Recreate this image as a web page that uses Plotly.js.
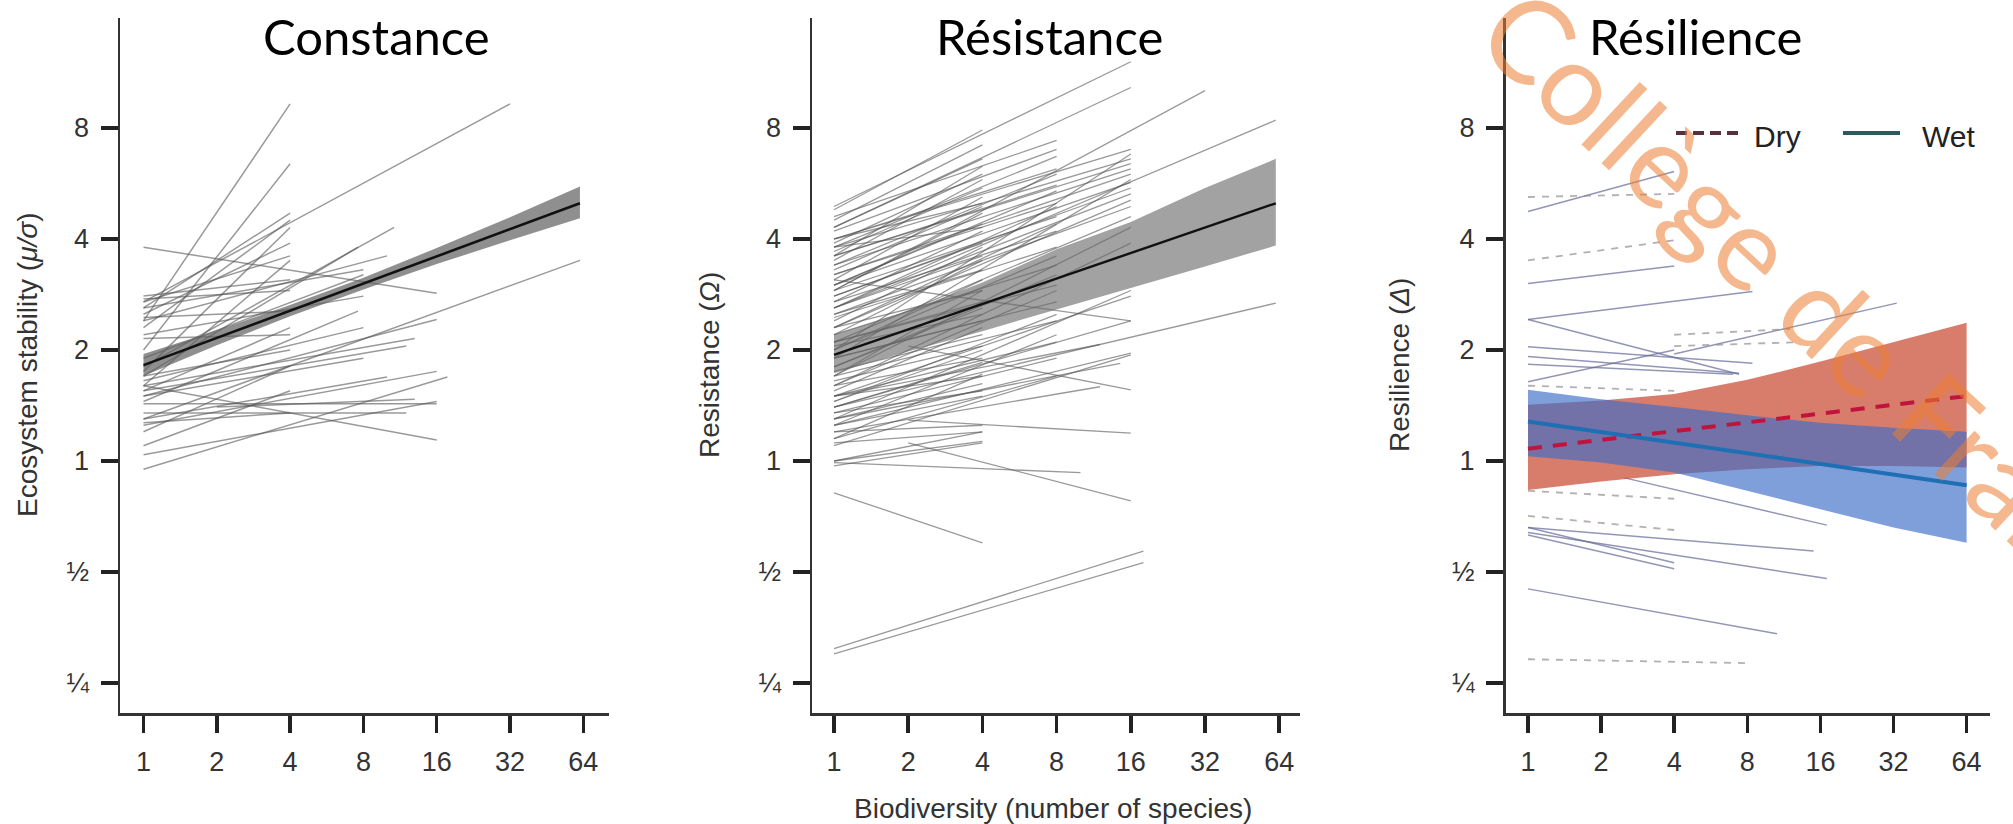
<!DOCTYPE html>
<html><head><meta charset="utf-8">
<script src="https://cdn.plot.ly/plotly-3.0.1.min.js"></script>
<style>html,body{margin:0;padding:0;background:#fff}#chart{width:2013px;height:824px}</style>
</head><body><div id="chart"></div>
<script>
// ---------- Panel 1 : Constance (ecosystem stability) ----------
const p1X0 = [1,1,1,1,1,1,1,1,1,1,1,1,1,1,1,1,1,1,1,2,1,1,1,1,1,1,1,1,1,1,1,1,1,1,1,1,1,1,1,1];
const p1X1 = [4,4,4,4,4,4,4,4,32,16,10.7,7.6,62,16,7.6,4,10,16,12,13,16,16,17.7,4,8,8,4,4,8,4,4,8,12,16,4,8,4,10,4,13];
const p1Y0 = [2.4,2.0,2.6,2.3,1.75,2.8,2.75,1.6,2.7,3.8,1.8,1.7,1.3,1.5,1.45,1.2,1.3,1.43,1.35,1.4,1.6,1.04,0.95,1.1,2.6,2.2,2.7,2.5,1.9,1.55,2.15,1.65,1.55,1.25,1.7,1.5,1.27,2.4,2.45,1.6];
const p1Y1 = [9.3,6.4,4.7,4.5,4.3,3.1,2.9,3.5,9.3,2.85,4.3,3.8,3.5,2.42,2.55,1.81,1.69,1.43,1.35,1.47,1.14,1.45,1.69,1.55,3.3,2.8,3.6,3.9,3.2,2.3,2.2,2.3,2.05,1.75,2.0,1.9,1.35,3.6,2.55,2.15];
const p1RegX = [1, 62];
const p1RegY = [1.82, 5.0];
const p1BandX  = [1, 2, 4, 8, 16, 32, 62];
const p1BandLo = [1.70, 2.06, 2.47, 2.92, 3.42, 3.97, 4.55];
const p1BandHi = [1.95, 2.26, 2.65, 3.14, 3.78, 4.58, 5.55];

// ---------- Panel 2 : Résistance ----------
const p2X0 = [1,1,1,1,1,1,1,1,1,1,1,1,1,1,1,1,1,1,1,1,1,1,1,1,1,1,1,1,1,1,1,1,1,1,1,1,1,1,1,1,1,1,
              1,1,1,1,1,1,1,1,1,1,1,1,1,1,1,1,1,1,1,1,1,1,1,1,1,
              1,1,1,1,1,1,1,1,1,1,1,1,1,1,1,1,1,1,1,1,1,1,2,1,2,2,1,1,1,1,1,1,1,1,1,1];
const p2X1 = [4,4,4,4,4,4,4,4,4,4,4,4,4,4,4,4,4,4,4,4,4,4,4,4,4,4,4,4,4,4,4,4,4,4,4,4,4,4,4,4,4,4,
              8,8,8,8,8,8,8,8,8,8,8,8,8,8,8,8,8,8,8,8,8,8,8,8,8,
              16,16,16,16,16,16,16,16,16,16,16,16,16,16,16,16,16,16,16,16,16,16,16,16,16,16,10,12,14.5,12,18,18,32,62,62,4];
const p2Y0 = [4.8,4.5,4.3,3.9,3.7,3.5,3.3,3.1,3.0,2.9,2.8,2.7,2.6,2.5,2.4,2.3,2.2,2.1,2.0,1.9,1.8,1.75,1.7,1.6,1.55,1.5,1.45,1.4,1.35,1.3,1.25,1.2,1.15,1.12,0.97,1.0,0.82,3.8,4.0,3.6,2.05,1.65,
              4.6,4.2,4.0,3.8,3.6,3.4,3.2,3.0,2.9,2.7,2.6,2.45,2.3,2.2,2.1,2.0,1.9,1.8,1.7,1.6,1.5,1.45,1.35,1.25,1.15,
              4.9,4.3,4.0,3.8,3.6,3.4,3.2,3.0,2.8,2.6,2.5,2.3,2.1,2.0,1.9,1.7,1.6,1.5,1.4,1.3,1.25,1.1,2.05,3.1,1.29,1.12,0.99,1.5,1.3,1.2,0.31,0.30,2.9,2.6,1.4,1.0];
const p2Y1 = [7.9,7.2,6.6,6.0,5.5,5.8,4.9,5.2,4.4,4.7,3.9,4.2,3.6,3.3,3.8,2.9,3.5,2.7,3.1,2.4,2.6,2.2,2.9,1.9,2.3,1.7,2.0,1.85,1.55,1.62,1.5,1.25,1.72,1.2,1.12,1.2,0.60,4.3,5.0,6.3,2.5,2.05,
              7.4,7.0,6.2,6.7,5.6,6.0,5.0,5.4,4.6,4.2,4.9,3.8,4.4,3.4,3.0,3.6,2.7,3.2,2.4,2.9,2.1,2.5,1.9,2.2,1.7,
              12.1,10.3,7.0,6.6,6.4,6.2,6.0,5.7,5.5,5.3,4.9,5.1,4.6,6.8,5.8,4.3,3.9,2.8,2.4,2.9,1.96,1.94,1.56,2.4,1.19,0.78,0.93,2.07,1.84,1.59,0.57,0.53,10.1,8.4,2.68,1.13];
const p2RegX = [1, 62];
const p2RegY = [1.94, 5.0];
const p2BandX  = [1, 2, 4, 8, 16, 32, 62];
const p2BandLo = [1.73, 1.98, 2.25, 2.58, 2.95, 3.37, 3.84];
const p2BandHi = [2.20, 2.55, 3.05, 3.75, 4.45, 5.50, 6.60];

// ---------- Panel 3 : Résilience ----------
const p3WetX0 = [1,1,1,1,4,1,1,1,1,2.5,1,1,1,1,1];
const p3WetX1 = [4,4,8.4,7.4,33,8.4,7.4,7,4,17,15,17,4,4,10.6];
const p3WetY0 = [4.75,3.03,2.42,2.42,1.95,2.04,1.92,1.83,1.64,0.9,0.66,0.64,0.66,0.63,0.45];
const p3WetY1 = [6.1,3.38,2.88,1.72,2.68,1.84,1.73,1.72,2.0,0.67,0.57,0.48,0.53,0.51,0.34];
const p3DryX0 = [1,1,4,4,1,1,1,1];
const p3DryX1 = [4,4,12,13,4,4,4,8.1];
const p3DryY0 = [5.2,3.5,2.2,2.05,1.6,0.83,0.71,0.29];
const p3DryY1 = [5.3,3.97,2.28,2.1,1.55,0.79,0.65,0.283];
const dryRegX = [1, 64];
const dryRegY = [1.08, 1.5];
const wetRegX = [1, 64];
const wetRegY = [1.28, 0.86];
const bandX3 = [1, 2, 4, 8, 16, 32, 64];
const dryLo = [0.835, 0.88, 0.92, 0.95, 0.97, 0.97, 0.96];
const dryHi = [1.42, 1.46, 1.52, 1.66, 1.86, 2.10, 2.37];
const wetLo = [1.03, 0.99, 0.93, 0.83, 0.74, 0.66, 0.60];
const wetHi = [1.56, 1.47, 1.40, 1.33, 1.27, 1.23, 1.20];

// ---------- axis labels ----------
const xTickVals = [1, 2, 4, 8, 16, 32, 64];
const xTickText = ['1', '2', '4', '8', '16', '32', '64'];
const yTickVals = [0.25, 0.5, 1, 2, 4, 8];
const yTickText = ['¼', '½', '1', '2', '4', '8'];
const panelTitles = ['Constance', 'Résistance', 'Résilience'];
const yTitles = ['Ecosystem stability (<i>μ/σ</i>)', 'Resistance (<i>Ω</i>)', 'Resilience (<i>Δ</i>)'];
const xTitle = 'Biodiversity (number of species)';
const legendNames = ['Dry', 'Wet'];

// ---------- helpers ----------
const W = 2013, H = 824;
const PX = p => p / W, PY = p => 1 - p / H;
function segs(x0, x1, y0, y1) {
  const xs = [], ys = [];
  for (let i = 0; i < x0.length; i++) { xs.push(x0[i], x1[i], null); ys.push(y0[i], y1[i], null); }
  return {xs, ys};
}
function band(x, lo, hi) {
  return {x: x.concat(x.slice().reverse()), y: hi.concat(lo.slice().reverse())};
}
const traces = [];
function addLines(s, ax, color, width, dash) {
  traces.push({type: 'scatter', mode: 'lines', x: s.xs, y: s.ys, xaxis: 'x' + ax, yaxis: 'y' + ax,
    line: {color: color, width: width, dash: dash || 'solid'}, hoverinfo: 'skip', showlegend: false});
}
function addBand(b, ax, color) {
  traces.push({type: 'scatter', mode: 'lines', x: b.x, y: b.y, xaxis: 'x' + ax, yaxis: 'y' + ax,
    fill: 'toself', fillcolor: color, line: {width: 0}, hoverinfo: 'skip', showlegend: false});
}
function addReg(x, y, ax, color, width, dash) {
  traces.push({type: 'scatter', mode: 'lines', x: x, y: y, xaxis: 'x' + ax, yaxis: 'y' + ax,
    line: {color: color, width: width, dash: dash || 'solid'}, hoverinfo: 'skip', showlegend: false});
}

// panel 1
addLines(segs(p1X0, p1X1, p1Y0, p1Y1), '', 'rgba(85,85,85,0.6)', 1.5);
addBand(band(p1BandX, p1BandLo, p1BandHi), '', 'rgba(95,95,95,0.7)');
addReg(p1RegX, p1RegY, '', '#111', 2.6);
// panel 2
addLines(segs(p2X0, p2X1, p2Y0, p2Y1), '2', 'rgba(85,85,85,0.6)', 1.3);
addBand(band(p2BandX, p2BandLo, p2BandHi), '2', 'rgba(105,105,105,0.62)');
addReg(p2RegX, p2RegY, '2', '#111', 2.4);
// panel 3
addLines(segs(p3WetX0, p3WetX1, p3WetY0, p3WetY1), '3', 'rgba(100,105,150,0.7)', 1.5);
addLines(segs(p3DryX0, p3DryX1, p3DryY0, p3DryY1), '3', 'rgba(150,140,145,0.7)', 1.8, '7px,7px');
addBand(band(bandX3, dryLo, dryHi), '3', 'rgba(200,70,45,0.7)');
addBand(band(bandX3, wetLo, wetHi), '3', 'rgba(60,110,200,0.66)');
addReg(dryRegX, dryRegY, '3', '#c0143c', 4, '14px,11px');
addReg(wetRegX, wetRegY, '3', '#1f6fb5', 4);

// ---------- layout ----------
const L2 = Math.log10(2);
const yRange = [(461 - 713) / 111 * L2, (461 - 18) / 111 * L2];
const yDom = [PY(713), PY(18)];
function xax(px0, px1, one, step) {
  return {type: 'log', domain: [PX(px0), PX(px1)], range: [(px0 - one) / step * L2, (px1 - one) / step * L2],
    showline: true, linecolor: '#333', linewidth: 2.5, ticks: 'outside', ticklen: 17, tickwidth: 3.5, tickcolor: '#222',
    showgrid: false, zeroline: false, tickvals: xTickVals, ticktext: xTickText, ticklabelstandoff: 6,
    tickfont: {family: 'Liberation Sans, Arial, sans-serif', size: 27, color: '#333'}, fixedrange: true};
}
function yax(anchor) {
  return {type: 'log', domain: yDom, range: yRange, anchor: anchor,
    showline: true, linecolor: '#333', linewidth: 2.5, ticks: 'outside', ticklen: 17, tickwidth: 3.5, tickcolor: '#222',
    showgrid: false, zeroline: false, tickvals: yTickVals, ticktext: yTickText, ticklabelstandoff: 6,
    tickfont: {family: 'Liberation Sans, Arial, sans-serif', size: 27, color: '#333'}, fixedrange: true};
}
const X1 = xax(120, 609, 143.5, 73.3); X1.anchor = 'y';
const X2 = xax(812, 1300, 834, 74.2); X2.anchor = 'y2';
const X3 = xax(1505.5, 1990, 1528, 73.1); X3.anchor = 'y3';

const annFont = {family: 'Liberation Sans, Arial, sans-serif', size: 28, color: '#333'};
const titleFont = {family: 'Lato, "Open Sans", sans-serif', size: 49, color: '#000'};
const annotations = [
  {text: panelTitles[0], x: PX(376), y: PY(36), xref: 'paper', yref: 'paper', showarrow: false, font: titleFont, xanchor: 'center', yanchor: 'middle'},
  {text: panelTitles[1], x: PX(1049), y: PY(36), xref: 'paper', yref: 'paper', showarrow: false, font: titleFont, xanchor: 'center', yanchor: 'middle'},
  {text: panelTitles[2], x: PX(1695), y: PY(36), xref: 'paper', yref: 'paper', showarrow: false, font: titleFont, xanchor: 'center', yanchor: 'middle'},
  {text: yTitles[0], x: PX(27), y: PY(365), xref: 'paper', yref: 'paper', showarrow: false, font: annFont, textangle: -90, xanchor: 'center', yanchor: 'middle'},
  {text: yTitles[1], x: PX(709), y: PY(365), xref: 'paper', yref: 'paper', showarrow: false, font: annFont, textangle: -90, xanchor: 'center', yanchor: 'middle'},
  {text: yTitles[2], x: PX(1399), y: PY(365), xref: 'paper', yref: 'paper', showarrow: false, font: annFont, textangle: -90, xanchor: 'center', yanchor: 'middle'},
  {text: xTitle, x: PX(1053), y: PY(808), xref: 'paper', yref: 'paper', showarrow: false, font: annFont, xanchor: 'center', yanchor: 'middle'},
  {text: legendNames[0], x: PX(1752), y: PY(136), xref: 'paper', yref: 'paper', showarrow: false, font: {family: 'Liberation Sans, Arial, sans-serif', size: 30, color: '#222'}, xanchor: 'left', yanchor: 'middle'},
  {text: legendNames[1], x: PX(1920), y: PY(136), xref: 'paper', yref: 'paper', showarrow: false, font: {family: 'Liberation Sans, Arial, sans-serif', size: 30, color: '#222'}, xanchor: 'left', yanchor: 'middle'},
  {text: 'Collège de France', x: PX(1832), y: PY(318), xref: 'paper', yref: 'paper', showarrow: false, textangle: 43,
   font: {family: 'Lato, "Open Sans", sans-serif', size: 116, color: 'rgba(237,125,49,0.55)'}, xanchor: 'center', yanchor: 'middle'}
];
const shapes = [
  {type: 'rect', xref: 'paper', yref: 'paper', x0: PX(1659), x1: PX(1976), y0: PY(167), y1: PY(113), fillcolor: '#fff', line: {width: 0}, layer: 'above'},
  {type: 'line', xref: 'paper', yref: 'paper', x0: PX(1676), x1: PX(1738), y0: PY(133), y1: PY(133), line: {color: '#5a3040', width: 4, dash: '11px,6px'}, layer: 'above'},
  {type: 'line', xref: 'paper', yref: 'paper', x0: PX(1843), x1: PX(1900), y0: PY(133), y1: PY(133), line: {color: '#2d5a5c', width: 4}, layer: 'above'}
];

const layout = {
  width: W, height: H, margin: {l: 0, r: 0, t: 0, b: 0}, paper_bgcolor: '#fff', plot_bgcolor: 'rgba(0,0,0,0)',
  showlegend: false, xaxis: X1, xaxis2: X2, xaxis3: X3, yaxis: yax('x'), yaxis2: yax('x2'), yaxis3: yax('x3'),
  annotations: annotations, shapes: shapes, font: {family: 'Liberation Sans, Arial, sans-serif'}
};
Plotly.newPlot('chart', traces, layout, {staticPlot: true});
</script></body></html>
